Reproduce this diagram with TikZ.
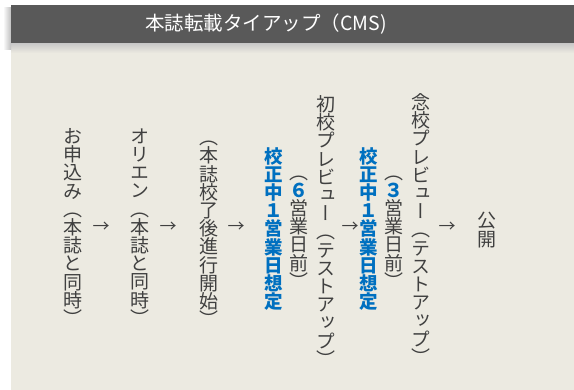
\documentclass[tikz,border=0pt]{standalone}
\usepackage{fontspec}
\newfontfamily\jpfont{Noto Sans CJK JP}
\newfontfamily\jpvfont[RawFeature=+vert]{Noto Sans CJK JP}
\definecolor{bgBeige}{HTML}{ECEAE1}
\definecolor{barGray}{HTML}{595959}
\definecolor{txtGray}{HTML}{404040}
\definecolor{accBlue}{HTML}{0070C0}
\setlength{\lineskiplimit}{-50pt}
\tikzset{
	vcol/.style={align=center, inner sep=0pt, text=txtGray, font=\jpvfont\fontsize{19}{18.2}\selectfont},
	vblue/.style={vcol, text=accBlue, font=\jpvfont\bfseries\fontsize{18.5}{18.2}\selectfont},
	arrowtxt/.style={inner sep=0pt, text=txtGray, font=\jpfont\fontsize{17}{20}\selectfont},
}

\begin{document}
\begin{tikzpicture}[x=1pt, y=-1pt]
		%%%%% START %%%%%
		\useasboundingbox (0, 0) rectangle (574, 390);
		\fill[white] (0, 0) rectangle (574, 390);
		
		% background and header bar
		\fill[bgBeige] (11, 43) rectangle (574, 390);
		\shade[top color=black!22, bottom color=bgBeige] (11, 43) rectangle (574, 53);
		\shade[left color=white, right color=black!25] (3, 8) rectangle (11, 50);
		\fill[barGray] (11, 5) rectangle (574, 43);
		\node[text=white, font=\jpfont\fontsize{19.5}{22}\selectfont] (title) at (266, 24) {本誌転載タイアップ（CMS)};
		
		% columns
		\node[vcol] (apply) at (73, 227) {お\\申\\込\\み\\（\\本\\誌\\と\\同\\時\\）};
		\node[vcol] (orien) at (140, 227) {オ\\リ\\エ\\ン\\（\\本\\誌\\と\\同\\時\\）};
		\node[vcol] (start) at (209, 234) {（\\本\\誌\\校\\了\\後\\進\\行\\開\\始\\）};
		\node[vblue] (fixa) at (274, 229) {校\\正\\中\\１\\営\\業\\日\\想\\定};
		\node[vcol] (daya) at (299, 232) {（\\{\color{accBlue}\bfseries ６}\\営\\業\\日\\前\\）};
		\node[vcol] (first) at (326, 231) {初\\校\\プ\\レ\\ビ\\ュ\\ー\\（\\テ\\ス\\ト\\ア\\ッ\\プ\\）};
		\node[vblue] (fixb) at (369, 229) {校\\正\\中\\１\\営\\業\\日\\想\\定};
		\node[vcol] (dayb) at (394, 232) {（\\{\color{accBlue}\bfseries ３}\\営\\業\\日\\前\\）};
		\node[vcol] (final) at (421, 229) {念\\校\\プ\\レ\\ビ\\ュ\\ー\\（\\テ\\ス\\ト\\ア\\ッ\\プ\\）};
		\node[vcol] (pub) at (487, 230) {公\\開};
		
		% arrows
		\node[arrowtxt] (arra) at (101, 227) {→};
		\node[arrowtxt] (arrb) at (168, 227) {→};
		\node[arrowtxt] (arrc) at (236, 227) {→};
		\node[arrowtxt] (arrd) at (350, 227) {→};
		\node[arrowtxt] (arre) at (447, 227) {→};
		
		%%%%% END %%%%%
\end{tikzpicture}
\end{document}
